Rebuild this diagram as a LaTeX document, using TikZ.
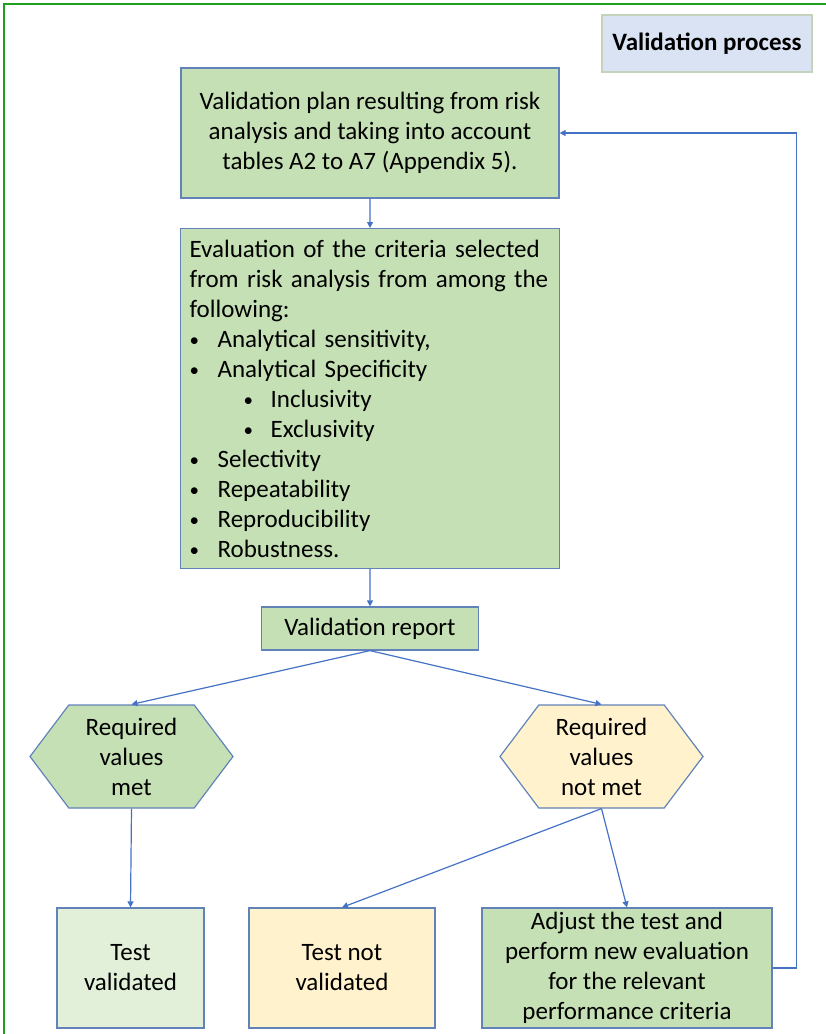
\documentclass[tikz,border=0pt]{standalone}
\usepackage{fontspec}
\setmainfont{Carlito}
\usepackage{tikz}
\usetikzlibrary{positioning, calc, shapes.symbols, arrows.meta}
\usepackage{xcolor}

\definecolor{boxgreen}{HTML}{C5E0B4}
\definecolor{palegreen}{HTML}{E2F0D9}
\definecolor{paleyellow}{HTML}{FFF2CC}
\definecolor{paleblue}{HTML}{DAE3F3}
\definecolor{linkblue}{HTML}{4472C4}
\definecolor{edgeblue}{HTML}{6283B8}
\definecolor{framegreen}{HTML}{1EA01E}

\newcommand{\critem}{\makebox[28pt][l]{\raisebox{1pt}{\fontsize{19}{19}\selectfont\textbullet}}}
\newcommand{\crsubitem}{\hspace*{54pt}\makebox[27pt][l]{\raisebox{1pt}{\fontsize{19}{19}\selectfont\textbullet}}}

\tikzset{
  stagebox/.style={draw=edgeblue, line width=1.2pt, fill=boxgreen, inner sep=0pt, align=center,
    font=\fontsize{25}{30}\selectfont},
  hexbox/.style={stagebox, shape=signal, signal to=west and east, signal pointer angle=106,
    minimum width=203pt, minimum height=103pt},
  link/.style={draw=linkblue, line width=1.2pt, -{Triangle[length=6pt, width=6pt]}},
}

\begin{document}
\begin{tikzpicture}[x=1pt, y=-1pt]
            \useasboundingbox (0,0) rectangle (826,1034);
            \draw[framegreen, line width=1.6pt] (4,1040) -- (4,4) -- (830,4);

            \node[stagebox, fill=paleblue, draw=boxgreen!80!black!60, font=\fontsize{25}{30}\selectfont\bfseries,
                  minimum width=210pt, minimum height=57pt] (title) at (707,43.5) {Validation process};

            \node[stagebox, minimum width=378pt, minimum height=130pt] (plan) at (370,133)
                {Validation plan resulting from risk\\analysis and taking into account\\tables A2 to A7 (Appendix 5).};

            \node[stagebox, minimum width=379pt, minimum height=340pt, align=left, anchor=north west,
                  text width=361pt, inner xsep=9pt, inner ysep=6pt] (eval) at (180,228)
                {Evaluation of the criteria selected\\
                 from risk analysis from among the\\
                 following:\\
                 \critem Analytical sensitivity,\\
                 \critem Analytical Specificity\\
                 \crsubitem Inclusivity\\
                 \crsubitem Exclusivity\\
                 \critem Selectivity\\
                 \critem Repeatability\\
                 \critem Reproducibility\\
                 \critem Robustness.};

            \node[stagebox, minimum width=217pt, minimum height=43pt] (report) at (370,628.5) {Validation report};

            \node[hexbox] (met) at (131.5,756.5) {Required\\values\\met};
            \node[hexbox, fill=paleyellow] (notmet) at (601.5,756.5) {Required\\values\\not met};

            \node[stagebox, fill=palegreen, minimum width=147pt, minimum height=120pt] (valid) at (130.5,968)
                {Test\\validated};
            \node[stagebox, fill=paleyellow, minimum width=186pt, minimum height=120pt] (notvalid) at (342,968)
                {Test not\\validated};
            \node[stagebox, minimum width=290pt, minimum height=120pt] (adjust) at (627,968)
                {Adjust the test and\\perform new evaluation\\for the relevant\\performance criteria};

            \draw[link] (plan) -- (eval);
            \draw[link] (eval) -- (report);
            \draw[link] (report.south) -- (met.north);
            \draw[link] (report.south) -- (notmet.north);
            \draw[link] (met.south) -- (valid.north);
            \draw[link] (notmet.south) -- (notvalid.north);
            \draw[link] (notmet.south) -- (adjust.north);
            \draw[link] (adjust.east) -- ++(24,0) |- (plan.east);
        \end{tikzpicture}
\end{document}
